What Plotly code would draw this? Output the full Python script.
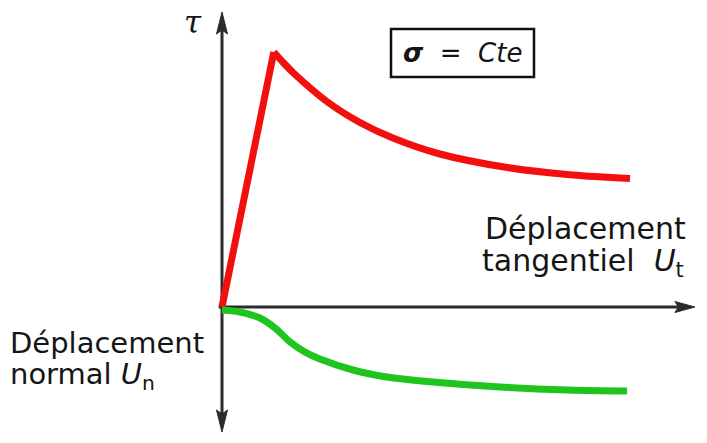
import plotly.graph_objects as go

# ---- data (schematic, arbitrary units) ----
# tangential stress tau vs tangential displacement Ut
red_rise_x = [0.0, 1.27]
red_rise_y = [0.0, 5.10]
red_decay_x = [1.27, 1.50, 1.74, 2.57, 3.38, 4.19, 5.34, 6.99, 8.60, 10.0]
red_decay_y = [5.10, 4.89, 4.69, 4.11, 3.69, 3.38, 3.06, 2.79, 2.64, 2.57]
# normal displacement Un vs tangential displacement Ut
green_x = [0.0, 0.44, 0.93, 1.30, 1.67, 2.03, 2.40, 3.21, 4.04, 5.17, 6.81, 8.46, 9.93]
green_y = [-0.06, -0.10, -0.22, -0.42, -0.70, -0.90, -1.04, -1.26, -1.40, -1.50, -1.60, -1.66, -1.68]

# axis extents
X_RANGE = [-5.441, 11.887]
Y_RANGE = [-2.72, 6.14]
V_TOP, V_BOT = 5.9, -2.5
H_END = 11.59

W, H = 707, 443
RED = "#f40f0f"
GREEN = "#1fc41f"
AX = "#2b2b2b"

fig = go.Figure()
fig.add_trace(go.Scatter(x=red_rise_x, y=red_rise_y, mode="lines",
                         line=dict(color=RED, width=7), hoverinfo="skip"))
fig.add_trace(go.Scatter(x=red_decay_x, y=red_decay_y, mode="lines",
                         line=dict(color=RED, width=7, shape="spline", smoothing=0.8),
                         hoverinfo="skip"))
fig.add_trace(go.Scatter(x=green_x, y=green_y, mode="lines",
                         line=dict(color=GREEN, width=7, shape="spline", smoothing=1.0),
                         hoverinfo="skip"))

shapes = [
    dict(type="line", x0=0, x1=0, y0=V_BOT + 0.3, y1=V_TOP - 0.3, xref="x", yref="y",
         line=dict(color=AX, width=3), layer="below"),
    dict(type="line", x0=-0.08, x1=H_END - 0.3, y0=0, y1=0, xref="x", yref="y",
         line=dict(color=AX, width=3), layer="below"),
    # arrowheads
    dict(type="path", xref="x", yref="y",
         path=f"M 0,{V_TOP} L 0.135,{V_TOP-0.44} L 0,{V_TOP-0.36} L -0.135,{V_TOP-0.44} Z",
         fillcolor=AX, line=dict(color=AX, width=1)),
    dict(type="path", xref="x", yref="y",
         path=f"M 0,{V_BOT} L 0.135,{V_BOT+0.44} L 0,{V_BOT+0.36} L -0.135,{V_BOT+0.44} Z",
         fillcolor=AX, line=dict(color=AX, width=1)),
    dict(type="path", xref="x", yref="y",
         path=f"M {H_END},0 L {H_END-0.49},0.11 L {H_END-0.40},0 L {H_END-0.49},-0.11 Z",
         fillcolor=AX, line=dict(color=AX, width=1)),
    # sigma = Cte box
    dict(type="rect", xref="paper", yref="paper",
         x0=391 / W, x1=534 / W, y0=1 - 77 / H, y1=1 - 29 / H,
         line=dict(color="#111111", width=2.5), fillcolor="rgba(0,0,0,0)"),
]

FONT = "DejaVu Sans"


def ann(text, px, py, size, xanchor="left", family=FONT, color="#151515"):
    return dict(text=text, x=px / W, y=1 - py / H, xref="paper", yref="paper",
                xanchor=xanchor, yanchor="middle", showarrow=False,
                font=dict(family=family, size=size, color=color))


annotations = [
    ann("<i>τ</i>", 193, 22, 31, xanchor="center", family="DejaVu Serif"),
    ann("<i><b>σ</b></i>  =  <i>Cte</i>", 462, 53, 26, xanchor="center"),
    ann("Déplacement", 688, 228, 30, xanchor="right"),
    ann("tangentiel  <i>U</i><sub>t</sub>", 686, 262, 30, xanchor="right"),
    ann("Déplacement", 8, 343, 29, xanchor="left"),
    ann("normal <i>U</i><sub>n</sub>", 8, 376, 29, xanchor="left"),
]

fig.update_layout(
    width=W, height=H,
    margin=dict(l=0, r=0, t=0, b=0),
    paper_bgcolor="white", plot_bgcolor="white",
    showlegend=False,
    xaxis=dict(range=X_RANGE, visible=False, fixedrange=True),
    yaxis=dict(range=Y_RANGE, visible=False, fixedrange=True),
    shapes=shapes,
    annotations=annotations,
)

fig.write_html(
    "out.html",
    config={"displayModeBar": False},
    post_script="document.body.style.margin='0px';document.body.style.padding='0px';",
)
